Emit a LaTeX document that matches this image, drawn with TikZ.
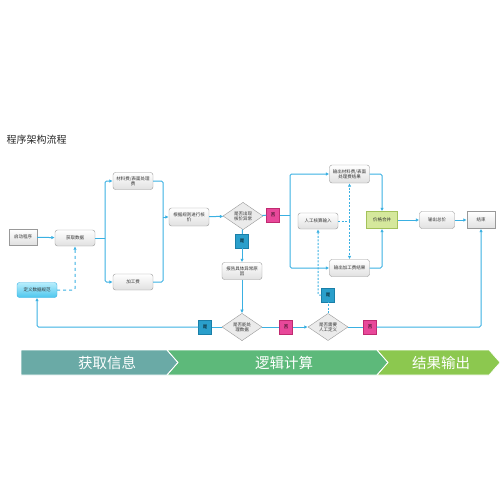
\documentclass[tikz,border=0pt]{standalone}
\usepackage{fontspec}
\setmainfont{Noto Sans CJK SC}
\usetikzlibrary{arrows.meta,shapes.geometric,calc,shadows}
\definecolor{lblue}{HTML}{3AB0E2}
\definecolor{yesfill}{HTML}{2A9FCB}
\definecolor{yesdraw}{HTML}{1A7FA8}
\definecolor{nofill}{HTML}{E8489A}
\definecolor{nodraw}{HTML}{C02A70}
\definecolor{segA}{HTML}{6AAAA6}
\definecolor{segB}{HTML}{5DB97A}
\definecolor{segC}{HTML}{8CC84F}
\definecolor{mergefill}{HTML}{D5E89C}
\definecolor{mergedraw}{HTML}{A3C25A}
\definecolor{deftop}{HTML}{B8EEFC}
\definecolor{defbot}{HTML}{4CC6EE}
\begin{document}
\begin{tikzpicture}[x=1pt,y=-1pt,
  font=\fontsize{4.5}{5.2}\selectfont,
  box/.style={draw=black!40, rounded corners=2.5pt, top color=white, bottom color=black!12,
    minimum width=40pt, minimum height=16pt, align=center, inner sep=1pt, text=black!80},
  sqbox/.style={draw=black!40, top color=white, bottom color=black!12,
    minimum width=28pt, minimum height=16pt, align=center, inner sep=1pt, text=black!80},
  dia/.style={diamond, draw=black!40, fill=black!8, minimum width=40pt, minimum height=26pt,
    inner sep=0pt, align=center, text=black!80},
  yesbox/.style={draw=yesdraw, fill=yesfill, minimum width=13pt, minimum height=14pt, inner sep=0pt,
    drop shadow={opacity=0.3, shadow xshift=0.8pt, shadow yshift=-0.8pt}},
  nobox/.style={draw=nodraw, fill=nofill, minimum width=13pt, minimum height=14pt, inner sep=0pt,
    drop shadow={opacity=0.3, shadow xshift=0.8pt, shadow yshift=-0.8pt}},
  ln/.style={draw=lblue, line width=1pt, rounded corners=1.5pt},
  arr/.style={ln, -{Latex[length=3.5pt,width=3.5pt]}},
  dsh/.style={arr, dashed},
  dotline/.style={arr, draw=lblue, dash pattern=on 2pt off 1.5pt},
  seg/.style={draw=white, line width=0.6pt},
  segtext/.style={text=white, font=\fontsize{14.5}{16}\selectfont}]
\useasboundingbox (0,0) rectangle (500,500);

\node[anchor=west, font=\fontsize{10}{12}\selectfont, text=black!85] (title) at (3,140) {程序架构流程};

% nodes
\node[sqbox] (start) at (23,237) {启动程序};
\node[box] (get) at (75,238) {获取数据};
\node[box, minimum height=17pt] (mat) at (133,181) {材料费/表面处理\\费};
\node[box] (proc) at (133,282) {加工费};
\node[box, minimum height=18pt] (rule) at (189,217) {根据规则进行核\\价};
\node[dia] (d1) at (243,216) {是否出现\\核价异常};
\node[nobox] (no1) at (273,215) {否};
\node[yesbox] (yes1) at (242,241) {是};
\node[box, minimum height=17pt] (report) at (242,271) {报告具体异常原\\因};
\node[box, draw=lblue, top color=deftop, bottom color=defbot, minimum height=15pt] (define) at (37,290) {定义数据规范};
\node[dia] (d2) at (242,327) {是否能处\\理数据};
\node[yesbox] (yes2) at (205,327) {是};
\node[nobox] (no2) at (286,327) {否};
\node[dia] (d3) at (328,327) {是否需要\\人工定义};
\node[nobox] (no3) at (370,327) {否};
\node[yesbox] (yes3) at (328,295) {是};
\node[box, minimum height=18pt] (outmat) at (349.5,174) {输出材料费/表面\\处理费结果};
\node[box] (manual) at (318,221) {人工核算输入};
\node[box, minimum height=17pt] (outproc) at (349.5,268) {输出加工费结果};
\node[draw=mergedraw, fill=mergefill, minimum width=31pt, minimum height=17pt, inner sep=1pt, text=black!80] (merge) at (382,220) {价格合并};
\node[box, minimum width=35pt, minimum height=17pt] (total) at (437,220) {输出总价};
\node[sqbox, minimum height=17pt] (end) at (481,220) {结束};

% coordinates
\coordinate (b1) at (105,238);
\coordinate (b2) at (163,217);
\coordinate (b3) at (290,215);
\coordinate (b4) at (349.5,221);

% connectors
\draw[arr] (start) -- (get);
\draw[ln] (get.east) -- (b1);
\draw[arr] (b1) |- (mat.west);
\draw[arr] (b1) |- (proc.west);
\draw[ln] (mat.east) -| (b2);
\draw[ln] (proc.east) -| (b2);
\draw[arr] (b2) -- (rule.west);
\draw[arr] (rule) -- (d1);
\draw[ln] (d1) -- (no1);
\draw[ln] (no1) -- (b3);
\draw[arr] (b3) |- (outmat.west);
\draw[arr] (b3) |- (outproc.west);
\draw[ln] (d1) -- (yes1);
\draw[arr] (yes1) -- (report);
\draw[arr] (report) -- (d2);
\draw[ln] (d2) -- (yes2);
\draw[arr] (yes2) -| (define.south);
\draw[dsh] (define.east) -| (get.south);
\draw[ln] (d2) -- (no2);
\draw[arr] (no2) -- (d3);
\draw[ln] (d3) -- (no3);
\draw[arr] (no3) -| (end.south);
\draw[ln, dash pattern=on 2pt off 1.5pt] (d3.north) -- (yes3.south);
\draw[dotline] (yes3.west) -| (manual.south);
\draw[ln, dash pattern=on 2pt off 1.5pt] (manual.east) -- (b4);
\draw[dotline] (b4) -- (outmat.south);
\draw[dotline] (b4) -- (outproc.north);
\draw[arr] (outmat.east) -| (merge.north);
\draw[arr] (outproc.east) -| (merge.south);
\draw[arr] (merge) -- (total);
\draw[arr] (total) -- (end);

% banner
\fill[segA, seg] (21,350) -- (167,350) -- (178,362.5) -- (167,375) -- (21,375) -- cycle;
\fill[segB, seg] (167,350) -- (377,350) -- (388,362.5) -- (377,375) -- (167,375) -- (178,362.5) -- cycle;
\fill[segC, seg] (377,350) -- (489,350) -- (500,362.5) -- (489,375) -- (377,375) -- (388,362.5) -- cycle;
\draw[white, line width=0.7pt] (167,350) -- (178,362.5) -- (167,375);
\draw[white, line width=0.7pt] (377,350) -- (388,362.5) -- (377,375);
\node[segtext] (s1) at (107,362.5) {获取信息};
\node[segtext] (s2) at (284,362.5) {逻辑计算};
\node[segtext] (s3) at (441,362.5) {结果输出};
\end{tikzpicture}
\end{document}
